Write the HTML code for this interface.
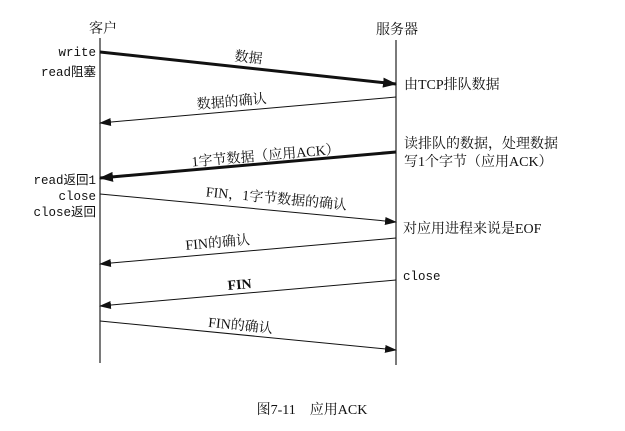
<!DOCTYPE html>
<html><head><meta charset="utf-8"><style>
html,body{margin:0;padding:0;background:#fff;}
svg{display:block;}
.c{font-family:"Liberation Serif","Noto Serif CJK SC",serif;font-size:14px;fill:#111;}
.m{font-family:"Liberation Mono","Noto Sans CJK SC",monospace;font-size:12.5px;fill:#111;}
</style></head><body>
<svg width="625" height="431" viewBox="0 0 625 431" xmlns="http://www.w3.org/2000/svg">
<defs>
<marker id="a" markerWidth="12" markerHeight="8" refX="11" refY="4" orient="auto" markerUnits="userSpaceOnUse">
<path d="M0,0 L12,4 L0,8 z" fill="#111"/></marker>
<marker id="b" markerWidth="14" markerHeight="10" refX="13" refY="5" orient="auto" markerUnits="userSpaceOnUse">
<path d="M0,0 L14,5 L0,10 z" fill="#111"/></marker>
</defs>
<line x1="100" y1="38" x2="100" y2="363" stroke="#222" stroke-width="1.2"/>
<line x1="396" y1="40" x2="396" y2="365" stroke="#222" stroke-width="1.2"/>
<text class="c" x="103" y="33" text-anchor="middle">客户</text>
<text class="c" x="397" y="34" text-anchor="middle">服务器</text>

<text class="m" x="96" y="56" text-anchor="end">write</text>
<text class="m" x="96" y="76" text-anchor="end">read阻塞</text>
<text class="m" x="96" y="184" text-anchor="end">read返回1</text>
<text class="m" x="96" y="200" text-anchor="end">close</text>
<text class="m" x="96" y="216" text-anchor="end">close返回</text>

<text class="c" x="404" y="89">由TCP排队数据</text>
<text class="c" x="404" y="148">读排队的数据，处理数据</text>
<text class="c" x="404" y="166">写1个字节（应用ACK）</text>
<text class="c" x="403" y="233">对应用进程来说是EOF</text>
<text class="m" x="403" y="280">close</text>

<line x1="100" y1="52" x2="396" y2="84" stroke="#111" stroke-width="3" marker-end="url(#b)"/>
<text class="c" transform="translate(248,62) rotate(6.2)" text-anchor="middle">数据</text>

<line x1="396" y1="97" x2="100" y2="123" stroke="#111" stroke-width="1" marker-end="url(#a)"/>
<text class="c" transform="translate(232,106) rotate(-5)" text-anchor="middle">数据的确认</text>

<line x1="396" y1="152" x2="100" y2="178" stroke="#111" stroke-width="3" marker-end="url(#b)"/>
<text class="c" transform="translate(266,160) rotate(-5)" text-anchor="middle" font-size="13.5">1字节数据（应用ACK）</text>

<line x1="100" y1="194" x2="396" y2="222" stroke="#111" stroke-width="1" marker-end="url(#a)"/>
<text class="c" transform="translate(276,203) rotate(5.4)" text-anchor="middle">FIN，1字节数据的确认</text>

<line x1="396" y1="238" x2="100" y2="264" stroke="#111" stroke-width="1" marker-end="url(#a)"/>
<text class="c" transform="translate(218,247) rotate(-5)" text-anchor="middle">FIN的确认</text>

<line x1="396" y1="280" x2="100" y2="306" stroke="#111" stroke-width="1" marker-end="url(#a)"/>
<text class="c" transform="translate(240,289) rotate(-5)" text-anchor="middle" font-weight="bold">FIN</text>

<line x1="100" y1="321" x2="396" y2="350" stroke="#111" stroke-width="1" marker-end="url(#a)"/>
<text class="c" transform="translate(240,330) rotate(5.6)" text-anchor="middle">FIN的确认</text>

<text class="c" x="312" y="414" text-anchor="middle">图7-11　应用ACK</text>
</svg>
</body></html>
